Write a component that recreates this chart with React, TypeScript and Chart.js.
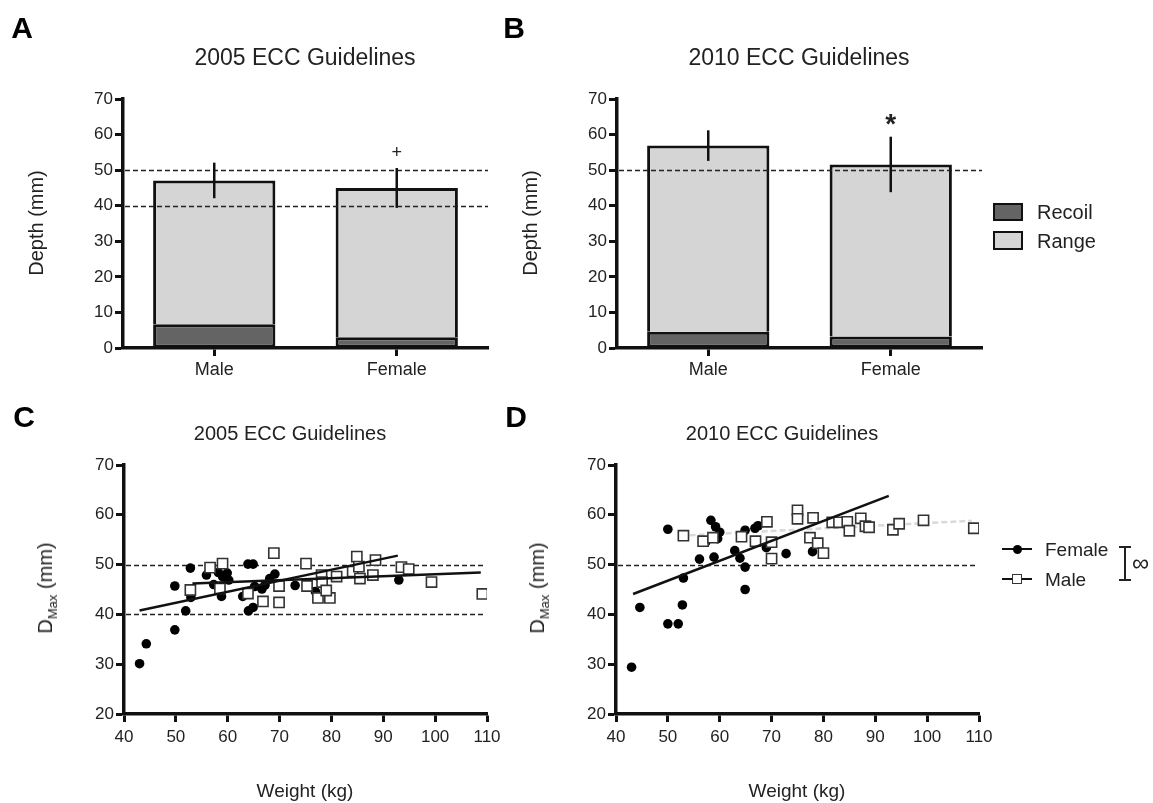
import React, { useEffect, useRef } from 'react';
import { Chart, registerables } from 'chart.js';
Chart.register(...registerables);

const FONT = '"Liberation Sans", Arial, Helvetica, sans-serif';

// ---------- Panel A / B data (bar charts) ----------
const barCategories = ['Male', 'Female'];
const recoil2005 = [6.7, 3.0];
const range2005 = [40.4, 42.0];
const sd2005 = [5.0, 5.6];
const marks2005 = ['', '+'];
const guide2005 = [40, 50];

const recoil2010 = [4.6, 3.2];
const range2010 = [52.3, 48.4];
const sd2010 = [4.3, 7.8];
const marks2010 = ['', '*'];
const guide2010 = [50];

// ---------- Panel C / D data (scatter: weight kg, Dmax mm) ----------
const female2005: number[][] = [
  [43.0, 30.1], [44.3, 34.1], [49.8, 45.7], [49.8, 36.9], [51.9, 40.7], [52.8, 49.3], [52.9, 43.4],
  [55.9, 47.9], [57.3, 46.0], [58.2, 48.4], [59.0, 47.6], [58.8, 43.6], [59.9, 48.3], [60.2, 46.9],
  [62.9, 43.6], [63.9, 50.1], [64.9, 50.1], [64.0, 40.7], [64.9, 41.4], [65.2, 45.6], [66.6, 45.1],
  [67.2, 45.9], [68.1, 47.2], [69.1, 48.1], [73.0, 45.8], [76.9, 44.6], [93.0, 46.9],
];
const male2005: number[][] = [
  [52.8, 44.9], [56.6, 49.4], [59.0, 50.2], [58.5, 45.2], [63.9, 44.2], [66.8, 42.6], [68.9, 52.3],
  [69.9, 45.7], [69.9, 42.4], [75.1, 50.2], [75.3, 45.7], [77.4, 43.3], [79.7, 43.3], [78.1, 47.9],
  [78.2, 46.5], [79.0, 44.8], [81.0, 47.6], [84.1, 48.6], [84.9, 51.6], [85.3, 49.6], [85.5, 47.2],
  [88.0, 47.9], [88.5, 50.9], [93.5, 49.5], [94.9, 49.1], [99.3, 46.5], [109.1, 44.1],
];
const fitFemale2005: number[][] = [[43.0, 40.8], [92.8, 51.8]];
const fitMale2005: number[][] = [[53.2, 46.2], [108.8, 48.4]];
const dmaxGuide2005 = [40, 50];

const female2010: number[][] = [
  [43.0, 29.4], [44.6, 41.4], [50.0, 57.1], [50.0, 38.1], [52.0, 38.1], [52.8, 41.9], [53.0, 47.3],
  [56.1, 51.1], [57.3, 54.5], [58.3, 58.9], [59.2, 57.6], [60.0, 56.5], [58.9, 51.5], [59.6, 55.2],
  [62.9, 52.8], [63.9, 51.3], [64.9, 49.5], [64.9, 45.0], [64.9, 56.9], [66.8, 57.3], [67.4, 57.8],
  [69.0, 53.4], [72.8, 52.2], [77.9, 52.6],
];
const male2010: number[][] = [
  [53.0, 55.8], [56.8, 54.7], [58.7, 55.4], [64.2, 55.6], [66.9, 54.7], [69.1, 58.6], [70.0, 54.5],
  [70.0, 51.2], [75.0, 60.9], [75.0, 59.2], [78.0, 59.4], [77.4, 55.4], [78.9, 54.3], [80.0, 52.3],
  [81.7, 58.5], [83.0, 58.5], [84.6, 58.6], [85.0, 56.8], [87.2, 59.3], [88.1, 57.7], [88.8, 57.5],
  [93.4, 57.0], [94.6, 58.2], [99.3, 58.9], [109.0, 57.3],
];
const fitFemale2010: number[][] = [[43.3, 44.1], [92.6, 63.8]];
const fitMale2010: number[][] = [[54.2, 55.9], [108.6, 58.8]];
const dmaxGuide2010 = [50];

// ---------- plugins ----------
const refLinePlugin = {
  id: 'refLines',
  beforeDatasetsDraw(chart: any, _a: any, opts: any) {
    if (opts && opts.values && !opts.front) drawRef(chart, opts);
  },
  afterDatasetsDraw(chart: any, _a: any, opts: any) {
    if (opts && opts.values && opts.front) drawRef(chart, opts);
  },
};
function drawRef(chart: any, opts: any) {
  const { ctx, chartArea, scales } = chart;
  ctx.save();
  ctx.strokeStyle = '#222';
  ctx.lineWidth = 1.5;
  ctx.setLineDash([5, 3]);
  const xEnd = opts.xMax != null ? scales.x.getPixelForValue(opts.xMax) : chartArea.right;
  for (const v of opts.values) {
    const y = Math.round(scales.y.getPixelForValue(v)) + 0.5;
    ctx.beginPath();
    ctx.moveTo(chartArea.left + 2, y);
    ctx.lineTo(xEnd, y);
    ctx.stroke();
  }
  ctx.restore();
}

const errorBarPlugin = {
  id: 'errBars',
  afterDatasetsDraw(chart: any, _a: any, opts: any) {
    if (!opts || !opts.sd) return;
    const { ctx, scales } = chart;
    const n = chart.data.labels.length;
    ctx.save();
    for (let i = 0; i < n; i++) {
      let top = 0;
      chart.data.datasets.forEach((ds: any) => (top += ds.data[i]));
      const px = scales.x.getPixelForValue(i);
      const yHi = scales.y.getPixelForValue(top + opts.sd[i]);
      const yLo = scales.y.getPixelForValue(top - opts.sd[i]);
      ctx.strokeStyle = '#111';
      ctx.lineWidth = 2.5;
      ctx.setLineDash([]);
      ctx.beginPath();
      ctx.moveTo(px, yLo);
      ctx.lineTo(px, yHi);
      ctx.stroke();
      const m = opts.marks[i];
      if (m) {
        ctx.fillStyle = '#222';
        ctx.textAlign = 'center';
        ctx.textBaseline = 'middle';
        if (m === '*') {
          ctx.font = `bold 28px ${FONT}`;
          ctx.fillText(m, px, yHi - 11);
        } else {
          ctx.font = `18px ${FONT}`;
          ctx.fillText(m, px, yHi - 15);
        }
      }
    }
    ctx.restore();
  },
};

// ---------- axis helpers ----------
const gridOpts = {
  display: true,
  drawOnChartArea: false,
  drawTicks: true,
  tickLength: 8,
  tickWidth: 3,
  tickColor: '#111',
  offset: false,
};
const borderOpts = { display: true, color: '#111', width: 3.5 };

function makeBarConfig(recoil: number[], range: number[], sd: number[], marks: string[], guides: number[]): any {
  return {
    type: 'bar',
    data: {
      labels: barCategories,
      datasets: [
        {
          label: 'Recoil',
          data: recoil,
          backgroundColor: '#646464',
          borderColor: '#111',
          borderWidth: { top: 3, left: 3, right: 3, bottom: 3 },
          borderSkipped: false,
          categoryPercentage: 1,
          barPercentage: 0.67,
        },
        {
          label: 'Range',
          data: range,
          backgroundColor: '#d5d5d5',
          borderColor: '#111',
          borderWidth: { top: 3, left: 3, right: 3, bottom: 0 },
          borderSkipped: false,
          categoryPercentage: 1,
          barPercentage: 0.67,
        },
      ],
    },
    options: {
      responsive: false,
      animation: false,
      layout: { padding: { left: 0, top: 99, right: 32, bottom: 0 } },
      plugins: {
        legend: { display: false },
        tooltip: { enabled: false },
        title: { display: false },
        refLines: { values: guides, front: true },
        errBars: { sd, marks },
      },
      scales: {
        x: {
          stacked: true,
          grid: gridOpts,
          border: borderOpts,
          ticks: { color: '#222', font: { family: FONT, size: 18 }, padding: 3 },
          afterFit: (s: any) => { s.height = 72; },
        },
        y: {
          stacked: true,
          min: 0,
          max: 70,
          grid: gridOpts,
          border: borderOpts,
          ticks: { stepSize: 10, color: '#222', font: { family: FONT, size: 17 }, padding: 2 },
          afterFit: (s: any) => { s.width = 123; },
        },
      },
    },
    plugins: [refLinePlugin, errorBarPlugin],
  };
}

const toXY = (arr: number[][]) => arr.map(([x, y]) => ({ x, y }));

function makeScatterConfig(female: number[][], male: number[][], fitF: number[][], fitM: number[][], guides: number[], maleFitLight: boolean): any {
  return {
    type: 'scatter',
    data: {
      datasets: [
        {
          label: 'Female fit',
          type: 'line',
          data: toXY(fitF),
          borderColor: '#111',
          borderWidth: 2.5,
          pointRadius: 0,
          showLine: true,
          fill: false,
          order: 0,
        },
        {
          label: 'Male fit',
          type: 'line',
          data: toXY(fitM),
          borderColor: maleFitLight ? '#d9d9d9' : '#111',
          borderDash: maleFitLight ? [6, 3] : [],
          borderWidth: 2.5,
          pointRadius: 0,
          showLine: true,
          fill: false,
          order: maleFitLight ? 3 : 0,
        },
        {
          label: 'Male',
          data: toXY(male),
          pointStyle: 'rect',
          pointRadius: 7.2,
          backgroundColor: '#ffffff',
          borderColor: '#333',
          borderWidth: 1.6,
          order: 1,
        },
        {
          label: 'Female',
          data: toXY(female),
          pointStyle: 'circle',
          pointRadius: 4.8,
          backgroundColor: '#000',
          borderColor: '#000',
          borderWidth: 0,
          order: 2,
        },
      ],
    },
    options: {
      responsive: false,
      animation: false,
      layout: { padding: { left: 0, top: 25, right: 33, bottom: 0 } },
      plugins: {
        legend: { display: false },
        tooltip: { enabled: false },
        title: { display: false },
        refLines: { values: guides, front: false, xMax: 109.6 },
      },
      scales: {
        x: {
          type: 'linear',
          min: 40,
          max: 110,
          grid: gridOpts,
          border: borderOpts,
          ticks: { stepSize: 10, color: '#222', font: { family: FONT, size: 17 }, padding: 5 },
          afterFit: (s: any) => { s.height = 89; },
        },
        y: {
          type: 'linear',
          min: 20,
          max: 70,
          grid: gridOpts,
          border: borderOpts,
          ticks: { stepSize: 10, color: '#222', font: { family: FONT, size: 17 }, padding: 2 },
          afterFit: (s: any) => { s.width = 124; },
        },
      },
    },
    plugins: [refLinePlugin],
  };
}

function ChartCanvas({ config, left, top, width, height }: any) {
  const ref = useRef<HTMLCanvasElement>(null);
  useEffect(() => {
    const c = new Chart(ref.current as HTMLCanvasElement, config);
    return () => c.destroy();
  }, []);
  return (
    <canvas
      ref={ref}
      width={width}
      height={height}
      style={{ position: 'absolute', left, top, width, height }}
    />
  );
}

function Txt({ x, y, size, bold, rotate, align, children }: any) {
  const transform =
    align === 'left'
      ? 'translate(0,-50%)'
      : `translate(-50%,-50%)${rotate ? ` rotate(${rotate}deg)` : ''}`;
  return (
    <div
      style={{
        position: 'absolute',
        left: x,
        top: y,
        transform,
        fontSize: size,
        fontWeight: bold ? 700 : 400,
        lineHeight: 1,
        whiteSpace: 'nowrap',
        color: bold ? '#000' : '#222',
        fontFamily: FONT,
      }}
    >
      {children}
    </div>
  );
}

function Box({ x, y, w, h, style }: any) {
  return <div style={{ position: 'absolute', left: x, top: y, width: w, height: h, boxSizing: 'border-box', ...style }} />;
}

export default function App() {
  const barA = makeBarConfig(recoil2005, range2005, sd2005, marks2005, guide2005);
  const barB = makeBarConfig(recoil2010, range2010, sd2010, marks2010, guide2010);
  const scC = makeScatterConfig(female2005, male2005, fitFemale2005, fitMale2005, dmaxGuide2005, false);
  const scD = makeScatterConfig(female2010, male2010, fitFemale2010, fitMale2010, dmaxGuide2010, true);
  return (
    <div style={{ position: 'absolute', left: 0, top: 0, width: 1153, height: 803, background: '#fff', overflow: 'hidden', fontFamily: FONT }}>
      <ChartCanvas config={barA} left={0} top={0} width={520} height={420} />
      <ChartCanvas config={barB} left={494} top={0} width={520} height={420} />
      <ChartCanvas config={scC} left={0} top={440} width={520} height={363} />
      <ChartCanvas config={scD} left={492} top={440} width={520} height={363} />

      {/* panel letters */}
      <Txt x={22} y={28} size={30} bold>A</Txt>
      <Txt x={514} y={28} size={30} bold>B</Txt>
      <Txt x={24} y={417} size={30} bold>C</Txt>
      <Txt x={516} y={417} size={30} bold>D</Txt>

      {/* titles */}
      <Txt x={305} y={57} size={23}>2005 ECC Guidelines</Txt>
      <Txt x={799} y={57} size={23}>2010 ECC Guidelines</Txt>
      <Txt x={290} y={433} size={20}>2005 ECC Guidelines</Txt>
      <Txt x={782} y={433} size={20}>2010 ECC Guidelines</Txt>

      {/* axis titles */}
      <Txt x={36} y={223} size={20} rotate={-90}>Depth (mm)</Txt>
      <Txt x={530} y={223} size={20} rotate={-90}>Depth (mm)</Txt>
      <Txt x={47} y={588} size={20} rotate={-90}>
        D<sub style={{ fontSize: 13 }}>Max</sub> (mm)
      </Txt>
      <Txt x={539} y={588} size={20} rotate={-90}>
        D<sub style={{ fontSize: 13 }}>Max</sub> (mm)
      </Txt>
      <Txt x={305} y={790} size={19}>Weight (kg)</Txt>
      <Txt x={797} y={790} size={19}>Weight (kg)</Txt>

      {/* legend B */}
      <Box x={993} y={203} w={30} h={18} style={{ border: '2.5px solid #111', background: '#646464' }} />
      <Txt x={1037} y={212} size={20} align="left">Recoil</Txt>
      <Box x={993} y={231} w={30} h={19} style={{ border: '2.5px solid #111', background: '#d5d5d5' }} />
      <Txt x={1037} y={241} size={20} align="left">Range</Txt>

      {/* legend D */}
      <Box x={1002} y={548} w={30} h={2} style={{ background: '#111' }} />
      <Box x={1012.5} y={544.5} w={9.5} h={9.5} style={{ background: '#000', borderRadius: '50%' }} />
      <Txt x={1045} y={549} size={19} align="left">Female</Txt>
      <Box x={1002} y={578} w={30} h={2} style={{ background: '#111' }} />
      <Box x={1012} y={574} w={10} h={10} style={{ background: '#fff', border: '1.5px solid #333' }} />
      <Txt x={1045} y={579} size={19} align="left">Male</Txt>
      <Box x={1124} y={547} w={2} h={33} style={{ background: '#222' }} />
      <Box x={1119} y={546} w={12} h={2} style={{ background: '#222' }} />
      <Box x={1119} y={579} w={12} h={2} style={{ background: '#222' }} />
      <Txt x={1132} y={563} size={24} align="left">∞</Txt>
    </div>
  );
}
